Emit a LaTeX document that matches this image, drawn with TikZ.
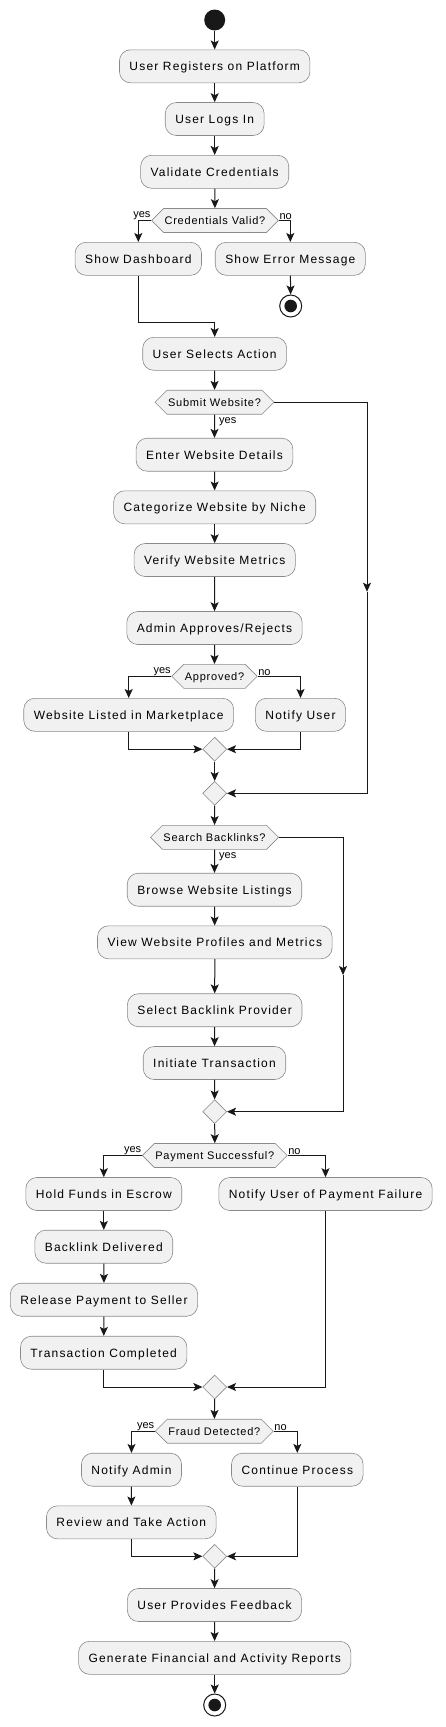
\documentclass[tikz,border=0pt]{standalone}
\usepackage{fontspec}
\setmainfont{Liberation Sans}
\newfontfamily\actfamily[LetterSpace=10]{Liberation Sans}
\newfontfamily\askfamily[LetterSpace=7]{Liberation Sans}
\newcommand\actfont{\actfamily\fontsize{12}{14}\selectfont}
\newcommand\askfont{\askfamily\fontsize{11}{13}\selectfont}
\newcommand\lblfont{\fontsize{11}{13}\selectfont}
\usetikzlibrary{arrows.meta,shapes.symbols,shapes.geometric}
\definecolor{boxfill}{HTML}{F1F1F1}
\definecolor{boxline}{HTML}{8A8A8A}
\definecolor{flowline}{HTML}{181818}

\begin{document}
\begin{tikzpicture}[x=1pt, y=-1pt,
		action/.style={draw=boxline, line width=0.6pt, fill=boxfill, rounded corners=11pt, minimum height=33pt, inner xsep=10pt, inner ysep=0pt, text height=11pt, text depth=2.4pt, font=\actfont},
		ask/.style={signal, signal to=east and west, signal pointer angle=90, draw=boxline, line width=0.6pt, fill=boxfill, minimum height=24pt, inner xsep=1pt, inner ysep=0pt, text height=10pt, text depth=2.1pt, font=\askfont},
		merge/.style={diamond, draw=boxline, line width=0.6pt, fill=boxfill, minimum width=24pt, minimum height=24pt, inner sep=0pt},
		startdot/.style={circle, fill=flowline, minimum size=21pt, inner sep=0pt},
		stopdot/.style={circle, draw=flowline, line width=1pt, fill=white, minimum size=22pt, inner sep=0pt, path picture={\fill[flowline] (path picture bounding box.center) circle (6.3pt);}},
		flow/.style={draw=flowline, line width=1pt, -{Stealth[length=9pt, width=8pt, inset=2pt]}},
		lbl/.style={font=\lblfont, inner sep=0.5pt}
	]
	\useasboundingbox (0,0) rectangle (445,1727);

	% login
	\node[startdot] (start) at (214.7,20) {};
	\node[action] (reg) at (214.7,66.3) {User Registers on Platform};
	\node[action] (login) at (214.7,119) {User Logs In};
	\node[action] (validate) at (214.7,171.8) {Validate Credentials};
	\node[ask] (credq) at (215,220.5) {Credentials Valid?};
	\node[action] (dash) at (138.3,258.8) {Show Dashboard};
	\node[action] (err) at (290.3,258.8) {Show Error Message};
	\node[stopdot] (stop1) at (290.7,306) {};
	\coordinate (j1) at (214.7,322);

	% submit website
	\node[action] (select) at (214.7,353.8) {User Selects Action};
	\node[ask] (submitq) at (214.5,402.2) {Submit Website?};
	\node[action] (enter) at (214.5,454.7) {Enter Website Details};
	\node[action] (categ) at (214.7,507.3) {Categorize Website by Niche};
	\node[action] (verify) at (214.7,560) {Verify Website Metrics};
	\node[action] (admin) at (214.5,628) {Admin Approves/Rejects};
	\node[ask] (apprq) at (214.5,676.3) {Approved?};
	\node[action] (listed) at (128.7,714.8) {Website Listed in Marketplace};
	\node[action] (notify) at (300.5,714.8) {Notify User};
	\node[merge] (m1) at (214.7,749.2) {};
	\node[merge] (m2) at (214.7,793.3) {};
	\coordinate (skip1) at (367,591.7);

	% backlinks
	\node[ask] (searchq) at (214.5,837.3) {Search Backlinks?};
	\node[action] (browse) at (214.5,889.7) {Browse Website Listings};
	\node[action] (view) at (214.8,942.3) {View Website Profiles and Metrics};
	\node[action] (provider) at (214.7,1010.2) {Select Backlink Provider};
	\node[action] (initiate) at (214.5,1063) {Initiate Transaction};
	\node[merge] (m3) at (214.7,1111.7) {};
	\coordinate (skip2) at (343,975);

	% payment
	\node[ask] (payq) at (214.8,1155.5) {Payment Successful?};
	\node[action] (hold) at (103.8,1194) {Hold Funds in Escrow};
	\node[action] (payfail) at (325.5,1194) {Notify User of Payment Failure};
	\node[action] (delivered) at (103.8,1246.7) {Backlink Delivered};
	\node[action] (release) at (104,1299.7) {Release Payment to Seller};
	\node[action] (completed) at (103.7,1352.7) {Transaction Completed};
	\node[merge] (m4) at (214.7,1387) {};

	% fraud check and end
	\node[ask] (fraudq) at (214.3,1431.2) {Fraud Detected?};
	\node[action] (notadmin) at (131.5,1469.7) {Notify Admin};
	\node[action] (cont) at (297.3,1469.7) {Continue Process};
	\node[action] (review) at (131.3,1522.3) {Review and Take Action};
	\node[merge] (m5) at (214.7,1556.3) {};
	\node[action] (feedback) at (214.5,1605) {User Provides Feedback};
	\node[action] (reports) at (214.7,1657.8) {Generate Financial and Activity Reports};
	\node[stopdot] (stop2) at (214.7,1705) {};

	\draw[flow] (start) -- (reg);
	\draw[flow] (reg) -- (login);
	\draw[flow] (login) -- (validate);
	\draw[flow] (validate) -- (credq);
	\draw[flow] (credq.west) -| (dash.north);
	\draw[flow] (credq.east) -| (err.north);
	\draw[flow] (err) -- (stop1);
	\draw[flow] (dash.south) |- (j1) -- (select.north);

	\draw[flow] (select) -- (submitq);
	\draw[flow] (submitq) -- (enter);
	\draw[flow] (enter) -- (categ);
	\draw[flow] (categ) -- (verify);
	\draw[flow] (verify) -- (admin);
	\draw[flow] (admin) -- (apprq);
	\draw[flow] (apprq.west) -| (listed.north);
	\draw[flow] (apprq.east) -| (notify.north);
	\draw[flow] (listed.south) |- (m1.west);
	\draw[flow] (notify.south) |- (m1.east);
	\draw[flow] (m1) -- (m2);
	\draw[flow] (submitq.east) -| (skip1);
	\draw[flow] (skip1) |- (m2.east);

	\draw[flow] (m2) -- (searchq);
	\draw[flow] (searchq) -- (browse);
	\draw[flow] (browse) -- (view);
	\draw[flow] (view) -- (provider);
	\draw[flow] (provider) -- (initiate);
	\draw[flow] (initiate) -- (m3);
	\draw[flow] (searchq.east) -| (skip2);
	\draw[flow] (skip2) |- (m3.east);

	\draw[flow] (m3) -- (payq);
	\draw[flow] (payq.west) -| (hold.north);
	\draw[flow] (payq.east) -| (payfail.north);
	\draw[flow] (hold) -- (delivered);
	\draw[flow] (delivered) -- (release);
	\draw[flow] (release) -- (completed);
	\draw[flow] (completed.south) |- (m4.west);
	\draw[flow] (payfail.south) |- (m4.east);

	\draw[flow] (m4) -- (fraudq);
	\draw[flow] (fraudq.west) -| (notadmin.north);
	\draw[flow] (fraudq.east) -| (cont.north);
	\draw[flow] (notadmin) -- (review);
	\draw[flow] (review.south) |- (m5.west);
	\draw[flow] (cont.south) |- (m5.east);
	\draw[flow] (m5) -- (feedback);
	\draw[flow] (feedback) -- (reports);
	\draw[flow] (reports) -- (stop2);

	% branch labels
	\node[lbl, anchor=south east] at (credq.west) {yes};
	\node[lbl, anchor=south west] at (credq.east) {no};
	\node[lbl, anchor=north west, xshift=4pt, yshift=-2pt] at (submitq.south) {yes};
	\node[lbl, anchor=south east] at (apprq.west) {yes};
	\node[lbl, anchor=south west] at (apprq.east) {no};
	\node[lbl, anchor=north west, xshift=4pt, yshift=-2pt] at (searchq.south) {yes};
	\node[lbl, anchor=south east] at (payq.west) {yes};
	\node[lbl, anchor=south west] at (payq.east) {no};
	\node[lbl, anchor=south east] at (fraudq.west) {yes};
	\node[lbl, anchor=south west] at (fraudq.east) {no};
\end{tikzpicture}
\end{document}
